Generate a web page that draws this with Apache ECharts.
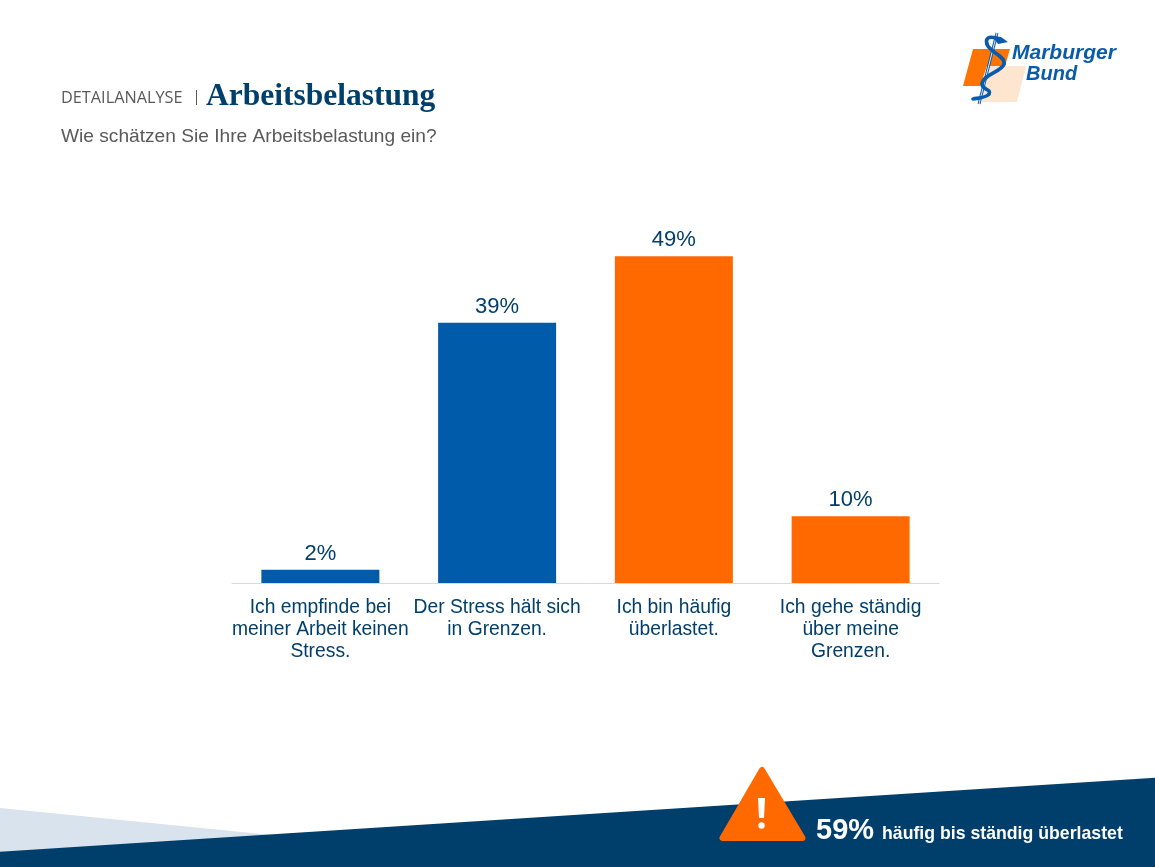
<!DOCTYPE html>
<html lang="de">
<head>
<meta charset="utf-8">
<title>Arbeitsbelastung</title>
<style>
  html, body { margin: 0; padding: 0; background: #fff; }
  #chart { width: 1155px; height: 867px; }
</style>
</head>
<body>
<div id="chart"></div>
<script src="https://cdn.jsdelivr.net/npm/echarts@6/dist/echarts.min.js"></script>
<script>
// data
const categories = [
  'Ich empfinde bei\nmeiner Arbeit keinen\nStress.',
  'Der Stress hält sich\nin Grenzen.',
  'Ich bin häufig\nüberlastet.',
  'Ich gehe ständig\nüber meine\nGrenzen.'
];
const values = [2, 39, 49, 10];

const BLUE = '#005baa';
const ORANGE = '#ff6900';
const NAVY = '#003f6b';
const SANS = '"Liberation Sans", Arial, sans-serif';

const myChart = echarts.init(document.getElementById('chart'), null, { renderer: 'canvas' });

// snake of the logo
const snakeStyle = { fill: 'none', stroke: '#0a5cab', lineWidth: 3.6, lineCap: 'round' };

// page furniture: header, logo, footer band, warning sign
const graphic = [
  // footer
  { type: 'polygon', z: 1, shape: { points: [[0, 808], [272, 835], [0, 853]] }, style: { fill: '#d8e3ed' } },
  { type: 'polygon', z: 2, shape: { points: [[0, 851.7], [1155, 777.7], [1155, 867], [0, 867]] }, style: { fill: NAVY } },
  { type: 'polygon', z: 3, shape: { points: [[762, 770], [722.5, 838], [802.5, 838]] },
    style: { fill: ORANGE, stroke: ORANGE, lineWidth: 6, lineJoin: 'round' } },
  { type: 'polygon', z: 4, shape: { points: [[758, 798], [765, 798], [764, 818], [759, 818]] }, style: { fill: '#fff' } },
  { type: 'circle', z: 4, shape: { cx: 761.5, cy: 825.5, r: 3.2 }, style: { fill: '#fff' } },
  { type: 'text', z: 4, left: 816, top: 816, style: { text: '59%', fill: '#fff', font: 'bold 29px ' + SANS } },
  { type: 'text', z: 4, left: 882, top: 825, style: { text: 'häufig bis ständig überlastet', fill: '#fff', font: 'bold 17.7px ' + SANS } },

  // header
  { type: 'text', left: 61, top: 90, style: { text: 'DETAILANALYSE', fill: '#595959', font: '16.3px "Open Sans", sans-serif' } },
  { type: 'rect', shape: { x: 196, y: 90, width: 1, height: 15 }, style: { fill: '#595959' } },
  { type: 'text', left: 206, top: 81, style: { text: 'Arbeitsbelastung', fill: NAVY, font: 'bold 31.5px "Liberation Serif", serif' } },
  { type: 'text', left: 61, top: 127, style: { text: 'Wie schätzen Sie Ihre Arbeitsbelastung ein?', fill: '#595959', font: '19.15px ' + SANS } },

  // logo
  { type: 'polygon', shape: { points: [[973, 49], [1010, 49], [1005, 66], [987, 66], [980, 86], [963, 86]] }, style: { fill: '#ff7300' } },
  { type: 'polygon', shape: { points: [[987, 66], [1026, 66], [1017, 102], [982, 102]] }, style: { fill: '#fde5d0' } },
  { type: 'line', shape: { x1: 997, y1: 33, x2: 979, y2: 104 }, style: { stroke: '#0a5cab', lineWidth: 3 } },
  { type: 'line', shape: { x1: 997, y1: 33, x2: 979, y2: 104 }, style: { stroke: '#dfeaf5', lineWidth: 1 } },
  { type: 'polygon', shape: { points: [[992, 36], [1001, 37], [1008, 42], [998, 44]] }, style: { fill: '#0a5cab' } },
  { type: 'bezierCurve', shape: { x1: 996, y1: 38, cpx1: 989, cpy1: 36, cpx2: 985, cpy2: 38, x2: 987, y2: 44 }, style: snakeStyle },
  { type: 'bezierCurve', shape: { x1: 987, y1: 44, cpx1: 989, cpy1: 52, cpx2: 1006, cpy2: 56, x2: 1004, y2: 64 }, style: snakeStyle },
  { type: 'bezierCurve', shape: { x1: 1004, y1: 64, cpx1: 1002, cpy1: 72, cpx2: 983, cpy2: 74, x2: 982, y2: 84 }, style: snakeStyle },
  { type: 'bezierCurve', shape: { x1: 982, y1: 84, cpx1: 982, cpy1: 90, cpx2: 992, cpy2: 89, x2: 989, y2: 94 }, style: snakeStyle },
  { type: 'bezierCurve', shape: { x1: 989, y1: 94, cpx1: 986, cpy1: 98, cpx2: 978, cpy2: 98, x2: 973, y2: 99 }, style: snakeStyle },
  { type: 'text', left: 1012, top: 43, style: { text: 'Marburger', fill: '#0a5cab', font: 'italic bold 21px ' + SANS } },
  { type: 'text', left: 1026, top: 64, style: { text: 'Bund', fill: '#0a5cab', font: 'italic bold 20px ' + SANS } }
];

const option = {
  animation: false,
  backgroundColor: '#fff',
  graphic: graphic,
  grid: { left: 232, top: 249.5, width: 707, height: 333.5 },
  xAxis: {
    type: 'category',
    data: categories,
    axisLine: { lineStyle: { color: '#d9d9d9', width: 1 } },
    axisTick: { show: false },
    axisLabel: {
      interval: 0,
      margin: 14,
      color: NAVY,
      fontFamily: SANS,
      fontSize: 19.3,
      lineHeight: 22
    }
  },
  yAxis: { type: 'value', min: 0, max: 50, show: false },
  series: [
    {
      type: 'bar',
      data: values,
      barWidth: 118,
      itemStyle: { color: (p) => (p.dataIndex < 2 ? BLUE : ORANGE) },
      label: {
        show: true,
        position: 'top',
        distance: 5,
        formatter: '{c}%',
        color: NAVY,
        fontFamily: SANS,
        fontSize: 22
      }
    }
  ]
};

myChart.setOption(option);
window.addEventListener('resize', () => myChart.resize());
</script>
</body>
</html>
